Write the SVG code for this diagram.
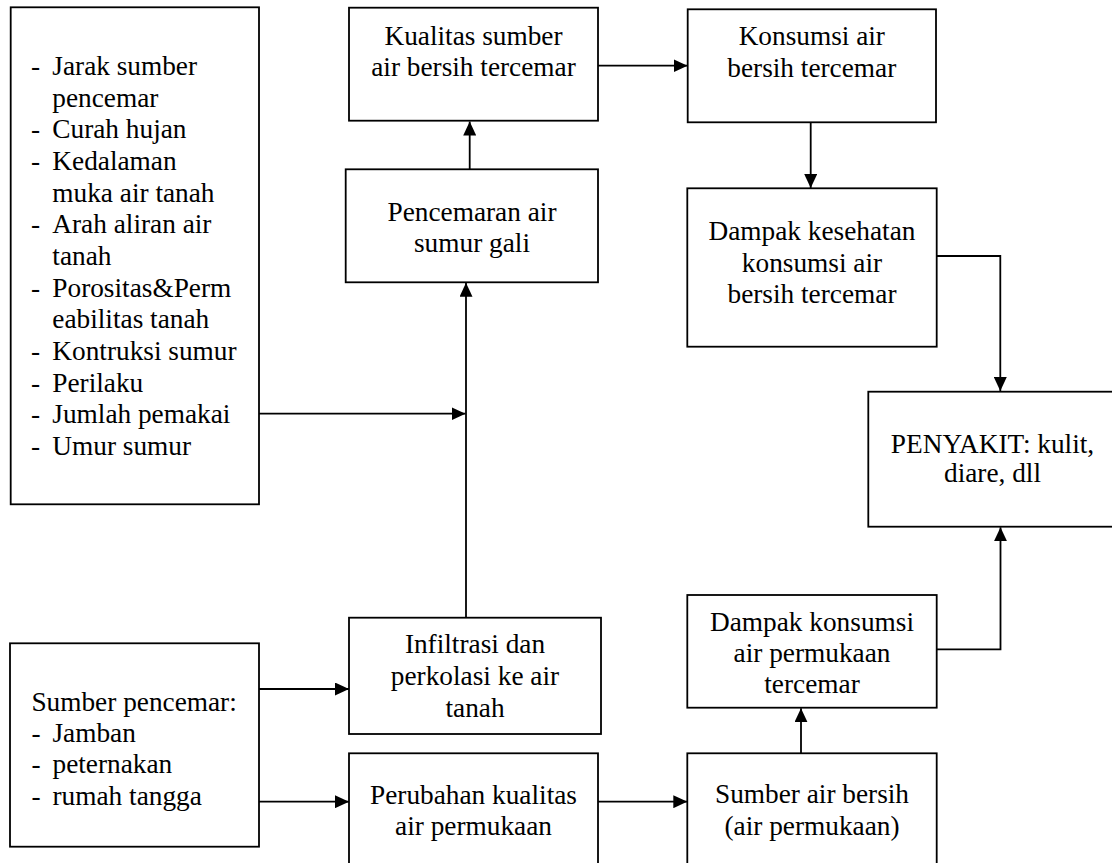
<svg xmlns="http://www.w3.org/2000/svg" width="1112" height="863" viewBox="0 0 1112 863">
  <style>
    .box { fill: #fff; stroke: #000; stroke-width: 1.8; }
    .t { font-family: 'Liberation Serif', Tinos, 'Times New Roman', Times, 'Nimbus Roman', 'DejaVu Serif', serif; font-size: 27.3px; fill: #000; }
    .c { text-anchor: middle; }
    .conn { fill: none; stroke: #000; stroke-width: 1.8; }
  </style>
  <defs>
    <marker id="arrow" markerUnits="userSpaceOnUse" markerWidth="14" markerHeight="13" refX="14" refY="6.5" orient="auto">
      <path d="M0,0 L14,6.5 L0,13 Z" fill="#000"/>
    </marker>
  </defs>
  <rect width="1112" height="863" fill="#fff"/>

  <g id="connectors">
    <path class="conn" d="M469.7,169.3 L469.7,121.5" marker-end="url(#arrow)"/>
    <path class="conn" d="M598,65.7 L687.5,65.7" marker-end="url(#arrow)"/>
    <path class="conn" d="M810.7,122.3 L810.7,188" marker-end="url(#arrow)"/>
    <path class="conn" d="M936.7,256 L1000.3,256 L1000.3,391" marker-end="url(#arrow)"/>
    <path class="conn" d="M259,413.7 L465.5,413.7" marker-end="url(#arrow)"/>
    <path class="conn" d="M466,617.5 L466,282.8" marker-end="url(#arrow)"/>
    <path class="conn" d="M259,689 L349,689" marker-end="url(#arrow)"/>
    <path class="conn" d="M259,801.7 L349,801.7" marker-end="url(#arrow)"/>
    <path class="conn" d="M598,801.7 L687.3,801.7" marker-end="url(#arrow)"/>
    <path class="conn" d="M801,753.3 L801,708.2" marker-end="url(#arrow)"/>
    <path class="conn" d="M936.7,649.3 L1000.5,649.3 L1000.5,527.2" marker-end="url(#arrow)"/>
  </g>

  <g id="faktor">
    <rect class="box" x="10.7" y="7.3" width="248.3" height="497"/>
    <text class="t" x="31" y="75">-</text><text class="t" x="52.3" y="75">Jarak sumber</text>
    <text class="t" x="52.3" y="106.7">pencemar</text>
    <text class="t" x="31" y="138.3">-</text><text class="t" x="52.3" y="138.3">Curah hujan</text>
    <text class="t" x="31" y="170">-</text><text class="t" x="52.3" y="170">Kedalaman</text>
    <text class="t" x="52.3" y="201.7">muka air tanah</text>
    <text class="t" x="31" y="233.3">-</text><text class="t" x="52.3" y="233.3">Arah aliran air</text>
    <text class="t" x="52.3" y="265">tanah</text>
    <text class="t" x="31" y="296.7">-</text><text class="t" x="52.3" y="296.7">Porositas&amp;Perm</text>
    <text class="t" x="52.3" y="328.3">eabilitas tanah</text>
    <text class="t" x="31" y="360">-</text><text class="t" x="52.3" y="360">Kontruksi sumur</text>
    <text class="t" x="31" y="391.7">-</text><text class="t" x="52.3" y="391.7">Perilaku</text>
    <text class="t" x="31" y="423.3">-</text><text class="t" x="52.3" y="423.3">Jumlah pemakai</text>
    <text class="t" x="31" y="455">-</text><text class="t" x="52.3" y="455">Umur sumur</text>
  </g>

  <g id="kualitas">
    <rect class="box" x="349" y="7.7" width="249" height="113"/>
    <text class="t c" x="473.5" y="44.5">Kualitas sumber</text>
    <text class="t c" x="473.5" y="75.5">air bersih tercemar</text>
  </g>

  <g id="konsumsi">
    <rect class="box" x="687.7" y="9.3" width="248.3" height="113"/>
    <text class="t c" x="811.8" y="45">Konsumsi air</text>
    <text class="t c" x="811.8" y="77">bersih tercemar</text>
  </g>

  <g id="pencemaran">
    <rect class="box" x="345.7" y="169.3" width="252.3" height="113"/>
    <text class="t c" x="472" y="221">Pencemaran air</text>
    <text class="t c" x="472" y="252">sumur gali</text>
  </g>

  <g id="dampak-kesehatan">
    <rect class="box" x="687.3" y="188.3" width="249.4" height="158.4"/>
    <text class="t c" x="812" y="240">Dampak kesehatan</text>
    <text class="t c" x="812" y="271.7">konsumsi air</text>
    <text class="t c" x="812" y="303.3">bersih tercemar</text>
  </g>

  <g id="penyakit">
    <rect class="box" x="868.3" y="391.7" width="250" height="135"/>
    <text class="t c" x="992.5" y="453">PENYAKIT: kulit,</text>
    <text class="t c" x="992.5" y="481.5">diare, dll</text>
  </g>

  <g id="infiltrasi">
    <rect class="box" x="349" y="617.7" width="252" height="116.3"/>
    <text class="t c" x="475" y="653.3">Infiltrasi dan</text>
    <text class="t c" x="475" y="685">perkolasi ke air</text>
    <text class="t c" x="475" y="716.7">tanah</text>
  </g>

  <g id="sumber-pencemar">
    <rect class="box" x="10" y="643.3" width="249" height="203.4"/>
    <text class="t" x="31.4" y="711">Sumber pencemar:</text>
    <text class="t" x="31.4" y="742.3">-</text><text class="t" x="52.5" y="742.3">Jamban</text>
    <text class="t" x="31.4" y="773.3">-</text><text class="t" x="52.5" y="773.3">peternakan</text>
    <text class="t" x="31.4" y="805">-</text><text class="t" x="52.5" y="805">rumah tangga</text>
  </g>

  <g id="perubahan">
    <rect class="box" x="349" y="753.3" width="249" height="130"/>
    <text class="t c" x="473.5" y="804">Perubahan kualitas</text>
    <text class="t c" x="473.5" y="835">air permukaan</text>
  </g>

  <g id="dampak-konsumsi">
    <rect class="box" x="687.3" y="595" width="249.4" height="112.7"/>
    <text class="t c" x="812" y="630.7">Dampak konsumsi</text>
    <text class="t c" x="812" y="662">air permukaan</text>
    <text class="t c" x="812" y="693.3">tercemar</text>
  </g>

  <g id="sumber-air">
    <rect class="box" x="687.3" y="753.3" width="249.4" height="130"/>
    <text class="t c" x="812" y="803.3">Sumber air bersih</text>
    <text class="t c" x="812" y="834.5">(air permukaan)</text>
  </g>
</svg>
